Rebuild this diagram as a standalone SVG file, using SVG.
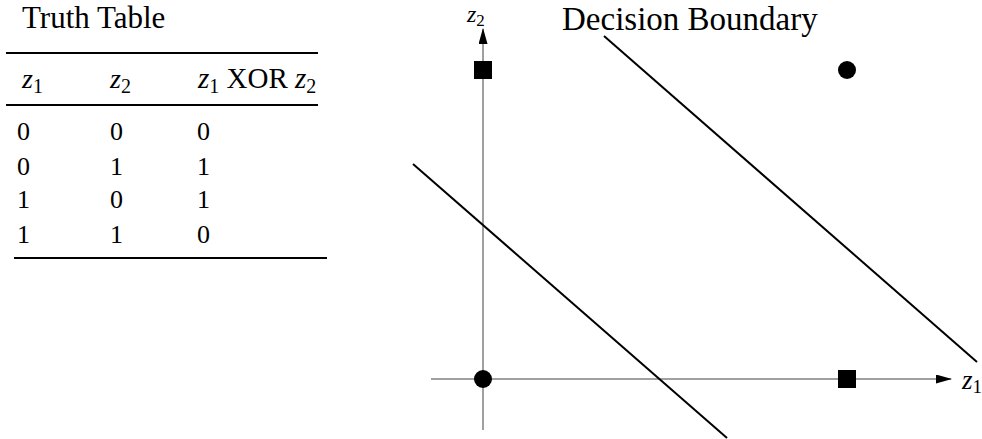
<svg xmlns="http://www.w3.org/2000/svg" width="982" height="439" viewBox="0 0 982 439">
<style>
.t{font-family:"Liberation Serif","Times New Roman",serif;fill:#000}
.m{font-family:"Liberation Serif","Times New Roman",serif;font-style:italic;fill:#000}
.rule{stroke:#000;stroke-width:2}
.axis{stroke:#808080;stroke-width:1.5;fill:none}
.bd{stroke:#000;stroke-width:2;fill:none}
</style>
<defs>
<marker id="ah" markerWidth="16" markerHeight="9" refX="15" refY="4.5" orient="auto" markerUnits="userSpaceOnUse">
<path d="M0,0 L16,4.5 L0,9 Z" fill="#000"/>
</marker>
</defs>
<rect width="982" height="439" fill="#fff"/>
<g id="truth-table">
<text class="t" x="22" y="28" font-size="31">Truth Table</text>
<line class="rule" x1="6" y1="53" x2="318" y2="53"/>
<text x="22" y="88" font-size="28"><tspan class="m">z</tspan><tspan class="t" font-size="20" dy="5">1</tspan></text>
<text x="110" y="88" font-size="28"><tspan class="m">z</tspan><tspan class="t" font-size="20" dy="5">2</tspan></text>
<text x="198" y="88" font-size="29"><tspan class="m">z</tspan><tspan class="t" font-size="20" dy="5">1</tspan><tspan class="t" dy="-5"> XOR </tspan><tspan class="m">z</tspan><tspan class="t" font-size="20" dy="5">2</tspan></text>
<line class="rule" x1="6" y1="105" x2="318" y2="105"/>
<g class="t" font-size="26">
<text x="17" y="140">0</text><text x="110" y="140">0</text><text x="197" y="140">0</text>
<text x="17" y="175">0</text><text x="110" y="175">1</text><text x="197" y="175">1</text>
<text x="17" y="208">1</text><text x="110" y="208">0</text><text x="197" y="208">1</text>
<text x="17" y="243">1</text><text x="110" y="243">1</text><text x="197" y="243">0</text>
</g>
<line class="rule" x1="14" y1="258" x2="327" y2="258"/>
</g>
<g id="title"><text class="t" x="562" y="30" font-size="33">Decision Boundary</text></g>
<g id="connectors">
<line class="axis" x1="483" y1="430" x2="483" y2="29" marker-end="url(#ah)"/>
<line class="axis" x1="431" y1="379" x2="951" y2="379" marker-end="url(#ah)"/>
<line class="bd" x1="413" y1="164" x2="727" y2="438"/>
<line class="bd" x1="604" y1="36" x2="977" y2="362"/>
</g>
<g id="axis-labels">
<text x="467" y="22" font-size="24"><tspan class="m">z</tspan><tspan class="t" font-size="17" dy="4">2</tspan></text>
<text x="962" y="389" font-size="27"><tspan class="m">z</tspan><tspan class="t" font-size="19" dy="4">1</tspan></text>
</g>
<g id="p00"><circle cx="483" cy="379" r="9" fill="#000"/></g>
<g id="p01"><rect x="474" y="61" width="18" height="18" fill="#000"/></g>
<g id="p10"><rect x="838" y="370" width="18" height="18" fill="#000"/></g>
<g id="p11"><circle cx="847" cy="70" r="9" fill="#000"/></g>
</svg>
